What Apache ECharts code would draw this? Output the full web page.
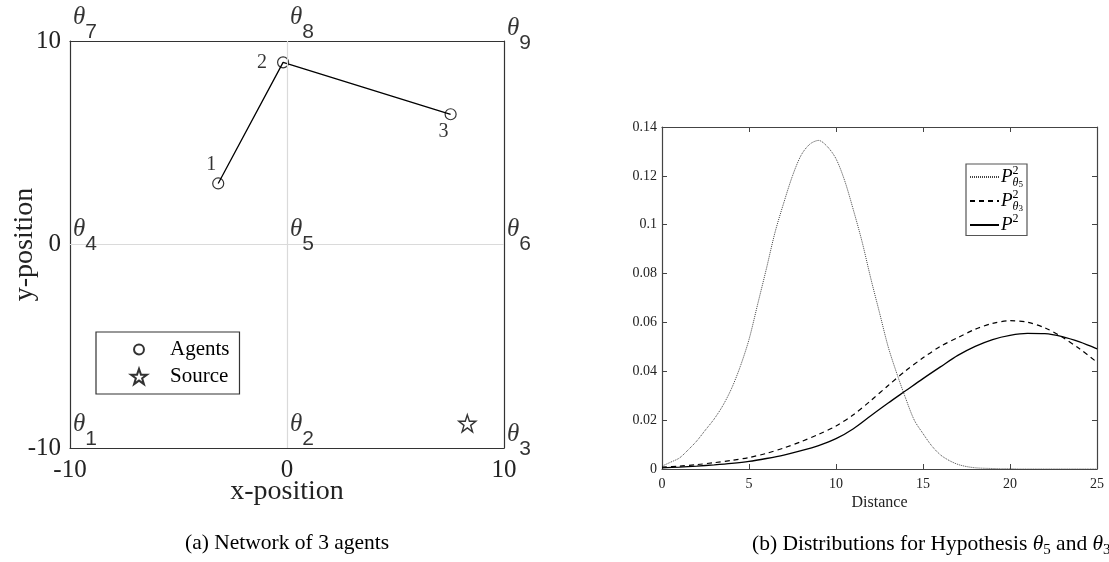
<!DOCTYPE html>
<html>
<head>
<meta charset="utf-8">
<script src="https://cdn.jsdelivr.net/npm/echarts@6/dist/echarts.min.js"></script>
<style>
html,body{margin:0;padding:0;background:#fff;}
#chart{width:1109px;height:562px;}
</style>
</head>
<body>
<div id="chart"></div>
<script>
// ---------- data: left panel (network) ----------
const agentNames = ['1', '2', '3'];
const agentX = [-3.17, -0.18, 7.54];
const agentY = [3.0, 8.95, 6.4];
const sourceX = [8.31];
const sourceY = [-8.79];
const thetaSubs = ['1', '2', '3', '4', '5', '6', '7', '8', '9'];
const thetaX = [-10, 0, 10, -10, 0, 10, -10, 0, 10];
const thetaY = [-10, -10, -10, 0, 0, 0, 10, 10, 10];

// ---------- data: right panel (distributions) ----------
const distFine = [0,0.5,1,1.5,2,2.5,3,3.5,4,4.5,5,5.5,6,6.5,7,7.5,8,8.5,9,9.5,10,10.5,11,11.5,12,12.5,13,13.5,14,14.5,15,15.5,16,16.5,17,17.5,18,18.5,19,19.5,20,20.5,21,21.5,22,22.5,23,23.5,24,24.5,25];
const pTheta5 = [0.0012,0.0028,0.0045,0.0078,0.0115,0.016,0.0205,0.026,0.033,0.042,0.053,0.0675,0.082,0.097,0.109,0.120,0.1285,0.133,0.1345,0.132,0.127,0.118,0.106,0.093,0.078,0.064,0.050,0.039,0.029,0.020,0.0145,0.0095,0.0058,0.0035,0.0019,0.0010,0.0005,0.0003,0.0002,0.0001,0.0001,0,0,0,0,0,0,0,0,0,0];
const distCoarse = [0,1,2,3,4,5,6,7,8,9,10,11,12,13,14,15,16,17,18,19,20,21,22,23,24,25];
const pTheta3 = [0.0008,0.0012,0.0018,0.0026,0.0035,0.0047,0.0064,0.0086,0.0112,0.0142,0.0176,0.0222,0.0280,0.0342,0.0402,0.0455,0.0502,0.0538,0.0572,0.0596,0.0607,0.0601,0.0578,0.0540,0.0492,0.0437];
const pAll = [0.0005,0.0008,0.0012,0.0017,0.0023,0.0031,0.0043,0.0057,0.0075,0.0096,0.0124,0.0165,0.0218,0.0270,0.0320,0.0370,0.0418,0.0465,0.0502,0.0530,0.0547,0.0555,0.0554,0.0542,0.0520,0.0492];

const SERIF = 'Liberation Serif';
const SANS = 'Liberation Sans';
const AX = '#333';

function pairs(xs, ys) { return xs.map((x, i) => [x, ys[i]]); }

const thetaDy = { '1': -36, '2': -36, '3': -26, '4': -28, '5': -28, '6': -28, '7': -36, '8': -36, '9': -25 };
const agentOffset = { '1': [-7, -19], '2': [-21, 0], '3': [-7, 17] };

const thetaRich = {
  t: { fontFamily: SERIF, fontStyle: 'italic', fontSize: 25, lineHeight: 20, verticalAlign: 'top', color: '#000' },
  s: { fontFamily: SANS, fontSize: 21, lineHeight: 38, verticalAlign: 'bottom', color: '#000' }
};

const legRich = {
  p: { fontFamily: SERIF, fontStyle: 'italic', fontSize: 19, lineHeight: 24, color: '#000' },
  sup: { fontFamily: SERIF, fontSize: 12, lineHeight: 12, verticalAlign: 'top', width: 0, color: '#000' },
  sub: { fontFamily: SERIF, fontStyle: 'italic', fontSize: 12, lineHeight: 12, verticalAlign: 'bottom', color: '#000' },
  ss: { fontFamily: SERIF, fontSize: 9, lineHeight: 7, verticalAlign: 'bottom', color: '#000' },
  sup2: { fontFamily: SERIF, fontSize: 12, lineHeight: 12, verticalAlign: 'top', color: '#000' }
};
const legendText = {
  'P5': '{p|P}{sup|2}{sub|θ}{ss|5}',
  'P3': '{p|P}{sup|2}{sub|θ}{ss|3}',
  'P': '{p|P}{sup2|2}'
};

const starPath = 'path://M50,2 L61.5,36 L97,36 L68.5,57.5 L79,92 L50,71 L21,92 L31.5,57.5 L3,36 L38.5,36 Z';
const legendCirclePath = 'path://M0,0 M100,100 M50,19 A31,31 0 1,1 49.9,19 Z';

const chart = echarts.init(document.getElementById('chart'), null, { renderer: 'canvas' });

const option = {
  backgroundColor: '#fff',
  animation: false,
  title: [
    { text: '(a) Network of 3 agents', left: 180, top: 527,
      textStyle: { fontFamily: SERIF, fontSize: 21.5, fontWeight: 'normal', color: '#000' } },
    { text: '{n|(b) Distributions for Hypothesis }{t|θ}{s|5}{n| and }{t|θ}{s|3}', left: 747, top: 526,
      textStyle: { fontWeight: 'normal', rich: {
        n: { fontFamily: SERIF, fontSize: 21.5, fontWeight: 'normal', lineHeight: 27, color: '#000' },
        t: { fontFamily: SERIF, fontStyle: 'italic', fontWeight: 'normal', fontSize: 21.5, lineHeight: 27, color: '#000' },
        s: { fontFamily: SERIF, fontSize: 15, fontWeight: 'normal', lineHeight: 16, verticalAlign: 'bottom', color: '#000' }
      } } }
  ],
  grid: [
    { left: 70, top: 41, width: 434, height: 407, outerBoundsMode: 'none', containLabel: false },
    { left: 662, top: 127, width: 435, height: 342, outerBoundsMode: 'none', containLabel: false }
  ],
  legend: [
    {
      data: [
        { name: 'Agents', icon: legendCirclePath },
        { name: 'Source', icon: starPath }
      ],
      orient: 'vertical', left: 96, top: 332,
      itemWidth: 16, itemHeight: 16, itemGap: 6,
      padding: [7, 10, 7, 34],
      borderColor: '#333', borderWidth: 1.2, borderRadius: 0,
      backgroundColor: '#fff',
      selectedMode: false,
      textStyle: { fontFamily: SERIF, fontSize: 21, color: '#000', padding: [0, 0, 0, 18] }
    },
    {
      data: ['P5', 'P3', 'P'],
      orient: 'vertical', left: 966, top: 164,
      itemWidth: 29, itemHeight: 10, itemGap: 0,
      padding: [1, 4, 1, 3],
      borderColor: '#555', borderWidth: 1.2, borderRadius: 0,
      backgroundColor: '#fff',
      selectedMode: false,
      itemStyle: { opacity: 0 },
      formatter: (name) => legendText[name],
      textStyle: { rich: legRich, padding: [0, 0, 0, -3] }
    }
  ],
  xAxis: [
    { gridIndex: 0, type: 'value', min: -10, max: 10, interval: 10, position: 'bottom',
      name: 'x-position', nameLocation: 'middle', nameGap: 30, nameMoveOverlap: false,
      nameTextStyle: { fontFamily: SERIF, fontSize: 28, color: '#222' },
      axisLine: { show: true, onZero: false, lineStyle: { color: AX, width: 1.2 } },
      axisTick: { show: true, inside: true, length: 5, lineStyle: { color: AX } },
      axisLabel: { fontFamily: SERIF, fontSize: 25, color: '#222', margin: 10 },
      splitLine: { show: false } },
    { gridIndex: 0, type: 'value', min: -10, max: 10, interval: 10, position: 'top',
      axisLine: { show: true, onZero: false, lineStyle: { color: AX, width: 1.2 } },
      axisTick: { show: true, inside: true, length: 5, lineStyle: { color: AX } },
      axisLabel: { show: false }, splitLine: { show: false } },
    { gridIndex: 1, type: 'value', min: 0, max: 25, interval: 5, position: 'bottom',
      name: 'Distance', nameLocation: 'middle', nameGap: 26, nameMoveOverlap: false,
      nameTextStyle: { fontFamily: SERIF, fontSize: 16, color: '#222' },
      axisLine: { show: true, onZero: false, lineStyle: { color: '#444', width: 1.2 } },
      axisTick: { show: true, inside: true, length: 5, lineStyle: { color: '#444' } },
      axisLabel: { fontFamily: SERIF, fontSize: 14, color: '#222', margin: 8 },
      splitLine: { show: false } },
    { gridIndex: 1, type: 'value', min: 0, max: 25, interval: 5, position: 'top',
      axisLine: { show: true, onZero: false, lineStyle: { color: '#444', width: 1.2 } },
      axisTick: { show: true, inside: true, length: 5, lineStyle: { color: '#444' } },
      axisLabel: { show: false }, splitLine: { show: false } }
  ],
  yAxis: [
    { gridIndex: 0, type: 'value', min: -10, max: 10, interval: 10, position: 'left',
      name: 'y-position', nameLocation: 'middle', nameGap: 31, nameMoveOverlap: false,
      nameTextStyle: { fontFamily: SERIF, fontSize: 28, color: '#222' },
      axisLine: { show: true, onZero: false, lineStyle: { color: AX, width: 1.2 } },
      axisTick: { show: true, inside: true, length: 5, lineStyle: { color: AX } },
      axisLabel: { fontFamily: SERIF, fontSize: 25, color: '#222', margin: 9 },
      splitLine: { show: false } },
    { gridIndex: 0, type: 'value', min: -10, max: 10, interval: 10, position: 'right',
      axisLine: { show: true, onZero: false, lineStyle: { color: AX, width: 1.2 } },
      axisTick: { show: true, inside: true, length: 5, lineStyle: { color: AX } },
      axisLabel: { show: false }, splitLine: { show: false } },
    { gridIndex: 1, type: 'value', min: 0, max: 0.14, interval: 0.02, position: 'left',
      axisLine: { show: true, onZero: false, lineStyle: { color: '#444', width: 1.2 } },
      axisTick: { show: true, inside: true, length: 5, lineStyle: { color: '#444' } },
      axisLabel: { fontFamily: SERIF, fontSize: 14, color: '#222', margin: 5 },
      splitLine: { show: false } },
    { gridIndex: 1, type: 'value', min: 0, max: 0.14, interval: 0.02, position: 'right',
      axisLine: { show: true, onZero: false, lineStyle: { color: '#444', width: 1.2 } },
      axisTick: { show: true, inside: true, length: 5, lineStyle: { color: '#444' } },
      axisLabel: { show: false }, splitLine: { show: false } }
  ],
  series: [
    { type: 'line', xAxisIndex: 0, yAxisIndex: 0, data: [], z: 1, silent: true,
      markLine: { silent: true, symbol: 'none', animation: false,
        label: { show: false },
        lineStyle: { color: '#dadada', width: 1.2, type: 'solid' },
        data: [{ xAxis: 0 }, { yAxis: 0 }] } },
    { type: 'line', xAxisIndex: 0, yAxisIndex: 0, name: 'links',
      data: pairs(agentX, agentY), showSymbol: false, symbol: 'none',
      lineStyle: { color: '#000', width: 1.3 }, z: 3, silent: true },
    { type: 'scatter', name: 'Agents', xAxisIndex: 0, yAxisIndex: 0,
      data: agentX.map((x, i) => ({ value: [x, agentY[i]], name: agentNames[i],
        label: { offset: agentOffset[agentNames[i]] } })),
      symbol: 'circle', symbolSize: 11,
      itemStyle: { color: 'rgba(255,255,255,0)', borderColor: '#000', borderWidth: 1.2 },
      label: { show: true, position: 'inside', formatter: (p) => p.name,
        fontFamily: SERIF, fontSize: 20, color: '#000' },
      z: 4 },
    { type: 'scatter', name: 'Source', xAxisIndex: 0, yAxisIndex: 0,
      data: pairs(sourceX, sourceY),
      symbol: starPath, symbolSize: 17,
      itemStyle: { color: 'rgba(255,255,255,0)', borderColor: '#000', borderWidth: 1.4 },
      z: 4 },
    { type: 'scatter', name: 'theta', xAxisIndex: 0, yAxisIndex: 0,
      data: thetaX.map((x, i) => ({ value: [x, thetaY[i]], name: thetaSubs[i],
        label: { position: [3, thetaDy[thetaSubs[i]]] } })),
      symbolSize: 0, silent: true,
      label: { show: true, align: 'left', verticalAlign: 'top',
        formatter: (p) => '{t|θ}{s|' + p.name + '}', rich: thetaRich },
      z: 5 },
    { type: 'line', name: 'P5', xAxisIndex: 2, yAxisIndex: 2,
      data: pairs(distFine, pTheta5), smooth: 0.3, showSymbol: false, symbol: 'none',
      itemStyle: { color: '#444' },
      lineStyle: { color: '#444', width: 1, type: [1, 1] }, z: 3 },
    { type: 'line', name: 'P3', xAxisIndex: 2, yAxisIndex: 2,
      data: pairs(distCoarse, pTheta3), smooth: 0.3, showSymbol: false, symbol: 'none',
      itemStyle: { color: '#000' },
      lineStyle: { color: '#000', width: 1.2, type: [5, 4] }, z: 3 },
    { type: 'line', name: 'P', xAxisIndex: 2, yAxisIndex: 2,
      data: pairs(distCoarse, pAll), smooth: 0.3, showSymbol: false, symbol: 'none',
      itemStyle: { color: '#000' },
      lineStyle: { color: '#000', width: 1.3 }, z: 3 }
  ]
};
chart.setOption(option);
</script>
</body>
</html>
